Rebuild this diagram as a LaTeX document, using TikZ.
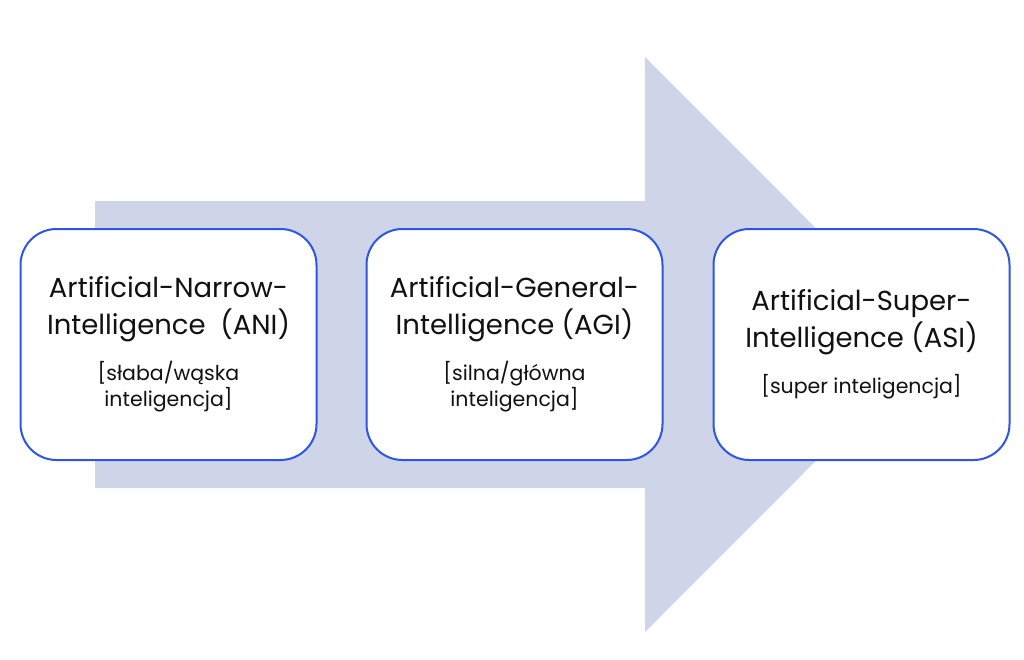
\documentclass[tikz,border=0pt]{standalone}
\usepackage{fontspec}
\setmainfont{Poppins}
\usetikzlibrary{positioning}
\definecolor{cBorder}{HTML}{2F55E4}
\definecolor{cArrow}{HTML}{CFD5E8}
\definecolor{cText}{HTML}{111111}
\newcommand{\subtext}{\fontsize{20.5}{25}\selectfont}
\tikzset{
  stagebox/.style={
    draw=cBorder, fill=white, rounded corners=36pt,
    minimum width=296pt, minimum height=231pt,
    line width=2pt, align=center, text=cText,
    font=\fontsize{27.5}{37}\selectfont,
  },
}

\begin{document}
\begin{tikzpicture}[x=1pt, y=-1pt]

  \useasboundingbox[fill=white] (0,0) rectangle (1024,659);

  % Big arrow in the background
  \fill[cArrow] (95,201) -- (645,201) -- (645,57) -- (932,344.5)
    -- (645,632) -- (645,488) -- (95,488) -- cycle;

  % Stages
  \node[stagebox] (ani) at (168.5,344.5)
    {Artificial-Narrow-\\Intelligence\ \ (ANI)\\[9pt]
     \subtext{[}słaba/wąska\\[-11pt]\subtext inteligencja{]}};

  \node[stagebox, right=48pt of ani] (agi)
    {Artificial-General-\\Intelligence (AGI)\\[9pt]
     \subtext{[}silna/główna\\[-11pt]\subtext inteligencja{]}};

  \node[stagebox, right=49pt of agi] (asi)
    {Artificial-Super-\\Intelligence (ASI)\\[9pt]
     \subtext{[}super inteligencja{]}};

\end{tikzpicture}
\end{document}
